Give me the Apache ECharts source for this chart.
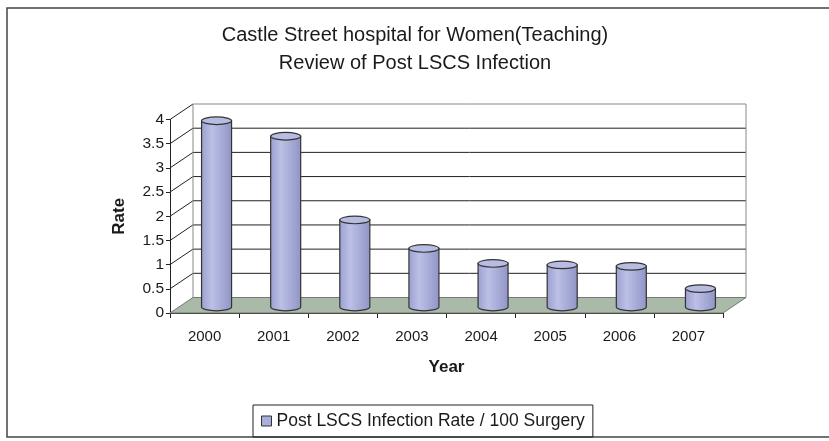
<!DOCTYPE html>
<html>
<head>
<meta charset="utf-8">
<script src="https://cdn.jsdelivr.net/npm/echarts@6/dist/echarts.min.js"></script>
<style>
  html, body { margin: 0; padding: 0; background: #fff; }
  #chart { width: 829px; height: 441px; }
</style>
</head>
<body>
<div id="chart"></div>
<script>
// ---- data ----
const categories = ['2000', '2001', '2002', '2003', '2004', '2005', '2006', '2007'];
const rateValues = [3.85, 3.53, 1.8, 1.21, 0.9, 0.87, 0.84, 0.38];
const yTicks = [0, 0.5, 1, 1.5, 2, 2.5, 3, 3.5, 4];
const seriesName = 'Post LSCS Infection Rate / 100 Surgery';
const titleLines = ['Castle Street hospital for Women(Teaching)', 'Review of Post LSCS Infection'];

// ---- 3D look constants (pixels) ----
const DX = 23, DY = -15.5;        // depth offset front -> back wall
const BAR_DX = 12, BAR_DY = -6;   // bars sit mid-depth
const RY = 3.8;

const chart = echarts.init(document.getElementById('chart'), null, { renderer: 'canvas' });

const wallSeries = {
  type: 'custom',
  silent: true,
  z: 1,
  data: yTicks.map(v => [0, v]),
  renderItem: function (params, api) {
    const cs = params.coordSys;
    const x0 = cs.x, x1 = cs.x + cs.width;
    const v = api.value(1);
    const y = api.coord([0, v])[1];
    const children = [];
    const isTop = v === yTicks[yTicks.length - 1];
    if (v !== 0) {
      children.push({
        type: 'line',
        shape: { x1: x0 + DX, y1: y + DY, x2: x1 + DX, y2: y + DY },
        style: { stroke: isTop ? '#888' : '#222', lineWidth: 1 }
      });
      children.push({
        type: 'line',
        shape: { x1: x0, y1: y, x2: x0 + DX, y2: y + DY },
        style: { stroke: '#222', lineWidth: 1 }
      });
    }
    return { type: 'group', children: children };
  }
};

const frameSeries = {
  type: 'custom',
  silent: true,
  z: 2,
  data: [[0, 0]],
  renderItem: function (params, api) {
    const cs = params.coordSys;
    const x0 = cs.x, x1 = cs.x + cs.width;
    const yb = api.coord([0, 0])[1];
    const yt = api.coord([0, yTicks[yTicks.length - 1]])[1];
    return {
      type: 'group',
      children: [
        { type: 'line', shape: { x1: x0 + DX, y1: yt + DY, x2: x0 + DX, y2: yb + DY }, style: { stroke: '#888', lineWidth: 1 } },
        { type: 'line', shape: { x1: x1 + DX, y1: yt + DY, x2: x1 + DX, y2: yb + DY }, style: { stroke: '#888', lineWidth: 1 } },
        {
          type: 'polygon',
          shape: { points: [[x0, yb], [x1, yb], [x1 + DX, yb + DY], [x0 + DX, yb + DY]] },
          style: { fill: '#aabaa9', stroke: '#777', lineWidth: 1 }
        }
      ]
    };
  }
};

const barSeries = {
  type: 'custom',
  name: seriesName,
  z: 5,
  itemStyle: { color: '#a9aedb', borderColor: '#333', borderWidth: 1 },
  data: rateValues.map((v, i) => [i, v]),
  renderItem: function (params, api) {
    const base = api.coord([api.value(0), 0]);
    const top = api.coord([api.value(0), api.value(1)]);
    const band = api.size([1, 0])[0];
    const rx = band * 0.217;
    const cx = base[0] + BAR_DX;
    const yb = base[1] + BAR_DY;
    const yt = top[1] + BAR_DY;
    const body = 'M' + (cx - rx) + ',' + yt + ' L' + (cx - rx) + ',' + yb +
      ' A' + rx + ',' + RY + ' 0 0 0 ' + (cx + rx) + ',' + yb +
      ' L' + (cx + rx) + ',' + yt + ' Z';
    const cap = 'M' + (cx - rx) + ',' + yt +
      ' A' + rx + ',' + RY + ' 0 0 0 ' + (cx + rx) + ',' + yt +
      ' A' + rx + ',' + RY + ' 0 0 0 ' + (cx - rx) + ',' + yt + ' Z';
    return {
      type: 'group',
      children: [
        {
          type: 'path',
          shape: { pathData: body },
          style: {
            fill: new echarts.graphic.LinearGradient(0, 0, 1, 0, [
              { offset: 0, color: '#9a9fcf' },
              { offset: 0.35, color: '#bcc0e6' },
              { offset: 1, color: '#8f94c6' }
            ]),
            stroke: '#333', lineWidth: 1.2
          }
        },
        {
          type: 'path',
          shape: { pathData: cap },
          style: { fill: '#b8bce2', stroke: '#333', lineWidth: 1.2 }
        }
      ]
    };
  }
};

const option = {
  backgroundColor: '#fff',
  animation: false,
  title: {
    text: titleLines.join('\n'),
    left: 415,
    top: 21,
    padding: 0,
    textAlign: 'center',
    textStyle: { fontFamily: 'Liberation Sans', fontSize: 20, fontWeight: 'normal', color: '#1a1a1a', lineHeight: 28 }
  },
  legend: {
    data: [{ name: seriesName, icon: 'rect' }],
    left: 253,
    top: 405,
    itemWidth: 10,
    itemHeight: 10,
    itemGap: 5,
    padding: [6, 8],
    borderColor: '#222',
    borderWidth: 1,
    itemStyle: { color: '#a9aedb', borderColor: '#333', borderWidth: 1 },
    textStyle: { fontFamily: 'Liberation Sans', fontSize: 17.5, color: '#1a1a1a', lineHeight: 20 }
  },
  grid: { left: 170, top: 119.5, width: 553, height: 193.5 },
  xAxis: {
    type: 'category',
    data: categories,
    boundaryGap: true,
    name: 'Year',
    nameLocation: 'middle',
    nameGap: 46,
    nameTextStyle: { fontFamily: 'Liberation Sans', fontSize: 17, fontWeight: 'bold', color: '#1a1a1a' },
    axisLine: { show: true, lineStyle: { color: '#222', width: 1 } },
    axisTick: { show: true, length: 5, lineStyle: { color: '#222' } },
    axisLabel: { fontFamily: 'Liberation Sans', fontSize: 15, color: '#1a1a1a', margin: 16 },
    splitLine: { show: false }
  },
  yAxis: {
    type: 'value',
    min: 0,
    max: 4,
    interval: 0.5,
    name: 'Rate',
    nameLocation: 'middle',
    nameGap: 42,
    nameTextStyle: { fontFamily: 'Liberation Sans', fontSize: 17, fontWeight: 'bold', color: '#1a1a1a' },
    axisLine: { show: true, lineStyle: { color: '#222', width: 1 } },
    axisTick: { show: true, length: 4, lineStyle: { color: '#222' } },
    axisLabel: { fontFamily: 'Liberation Sans', fontSize: 15.5, color: '#1a1a1a', margin: 6 },
    splitLine: { show: false }
  },
  graphic: [
    {
      type: 'rect',
      silent: true,
      z: -10,
      shape: { x: 7, y: 8, width: 830, height: 429 },
      style: { fill: 'none', stroke: '#444', lineWidth: 1.5 }
    }
  ],
  series: [wallSeries, frameSeries, barSeries]
};

chart.setOption(option);
</script>
</body>
</html>
